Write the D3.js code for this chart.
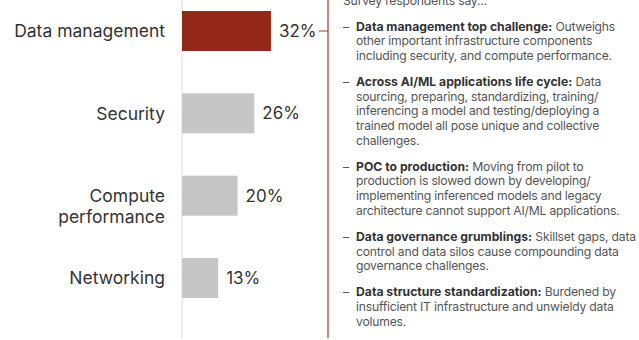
<!DOCTYPE html>
<html>
<head>
<meta charset="utf-8">
<script src="https://cdn.jsdelivr.net/npm/d3@7"></script>
<style>
  html, body { margin: 0; padding: 0; background: #fff; }
  svg { display: block; }
  text { font-family: "Inter", "Roboto", sans-serif; }
</style>
</head>
<body>
<svg id="chart" width="639" height="340"></svg>
<script>
(function(){

	var categories = ["Data management", "Security", "Compute performance", "Networking"];
	var values = [32, 26, 20, 13];
	// label lines for the category names
	var catLines = [["Data management"], ["Security"], ["Compute", "performance"], ["Networking"]];

	var intro = "Survey respondents say...";
	var noteHeads = [
		"Data management top challenge:",
		"Across AI/ML applications life cycle:",
		"POC to production:",
		"Data governance grumblings:",
		"Data structure standardization:"
	];
	var noteLines = [
		[" Outweighs", "other important infrastructure components", "including security, and compute performance."],
		[" Data", "sourcing, preparing, standardizing, training/", "inferencing a model and testing/deploying a", "trained model all pose unique and collective", "challenges."],
		[" Moving from pilot to", "production is slowed down by developing/", "implementing inferenced models and legacy", "architecture cannot support AI/ML applications."],
		[" Skillset gaps, data", "control and data silos cause compounding data", "governance challenges."],
		[" Burdened by", "insufficient IT infrastructure and unwieldy data", "volumes."]
	];

	var svg = d3.select("#chart");
	var red = "#942818";

	var x = d3.scaleLinear().domain([0, 40]).range([182, 293.2]);
	var y = d3.scaleBand().domain(categories).range([11, 298]).paddingInner(0.514).paddingOuter(0);

	// baseline axis
	svg.append("line")
		.attr("x1", x(0)).attr("x2", x(0))
		.attr("y1", 0).attr("y2", 338)
		.attr("stroke", "#dcdcdc").attr("stroke-width", 1);

	svg.selectAll("rect.bar")
		.data(values)
		.enter().append("rect")
			.attr("class", "bar")
			.attr("x", x(0))
			.attr("y", function(d, i){ return y(categories[i]); })
			.attr("width", function(d){ return x(d) - x(0); })
			.attr("height", y.bandwidth())
			.attr("fill", function(d, i){ return i === 0 ? red : "#c6c6c6"; });

	svg.selectAll("text.val")
		.data(values)
		.enter().append("text")
			.attr("class", "val")
			.attr("x", function(d){ return x(d) + 8; })
			.attr("y", function(d, i){ return y(categories[i]) + y.bandwidth() / 2; })
			.attr("dy", "0.36em")
			.attr("font-size", 17)
			.attr("fill", "#333")
			.text(function(d){ return d + "%"; });

	// first line sits on the bar centre, extra lines run below
	var cat = svg.selectAll("text.cat")
		.data(categories)
		.enter().append("text")
			.attr("class", "cat")
			.attr("text-anchor", "end")
			.attr("font-size", 17.5)
			.attr("fill", "#333")
			.attr("y", function(d){ return y(d) + y.bandwidth() / 2; });
	cat.each(function(d, i){
		var t = d3.select(this);
		catLines[i].forEach(function(s, j){
			t.append("tspan")
				.attr("x", 165)
				.attr("dy", j === 0 ? "0.36em" : "1.2em")
				.text(s);
		});
	});

	// red bracket linking the top bar to the notes
	var cy = y(categories[0]) + y.bandwidth() / 2;
	svg.append("path")
		.attr("d", "M319," + cy + "H328M328,0V338")
		.attr("fill", "none")
		.attr("stroke", "#a33a2c")
		.attr("stroke-width", 1.2);

	// notes
	var notes = svg.append("g").attr("font-size", 12.2);
	notes.append("text")
		.attr("x", 343).attr("y", 5)
		.attr("fill", "#555")
		.attr("letter-spacing", -0.2)
		.text(intro);

	var lh = 14.7, yy = 30.5;
	noteHeads.forEach(function(h, i){
		notes.append("text")
			.attr("x", 343).attr("y", yy)
			.attr("fill", "#555")
			.text("–");
		var t = notes.append("text").attr("y", yy);
		t.append("tspan").attr("x", 356).attr("font-weight", 700).attr("fill", "#333").text(h);
		t.append("tspan").attr("fill", "#555").attr("letter-spacing", -0.22).text(noteLines[i][0]);
		for (var k = 1; k < noteLines[i].length; k++) {
			t.append("tspan").attr("x", 356).attr("dy", lh).attr("fill", "#555")
				.attr("letter-spacing", -0.22).text(noteLines[i][k]);
		}
		yy += noteLines[i].length * lh + 11.3;
	});

})();
</script>
</body>
</html>
